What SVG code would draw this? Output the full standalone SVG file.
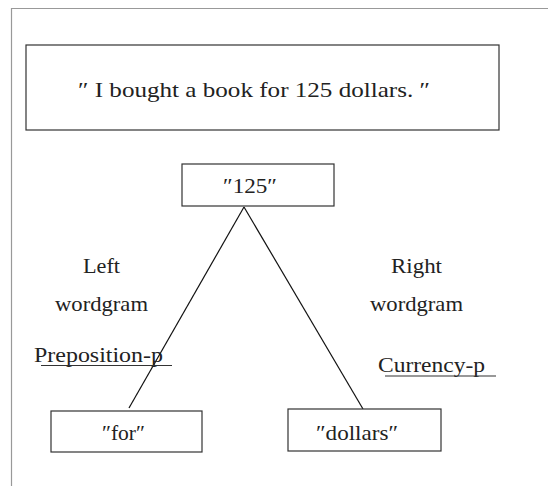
<svg xmlns="http://www.w3.org/2000/svg" width="548" height="486" viewBox="0 0 548 486">
<style>
.box{fill:#fff;stroke:#333;stroke-width:1.2}
.t{font-family:'Liberation Serif','DejaVu Serif',serif;font-size:21px;fill:#222}
.ln{stroke:#111;stroke-width:1.2;fill:none}
.ul{stroke:#333;stroke-width:1.2}
</style>
<rect x="0" y="0" width="548" height="486" fill="#fff"/>
<path d="M11.5,486 V8.5 H548" fill="none" stroke="#999" stroke-width="1.2"/>
<g id="connectors">
<line class="ln" x1="244" y1="207" x2="129" y2="408"/>
<line class="ln" x1="244" y1="207" x2="363" y2="409"/>
</g>
<g id="sentence">
<rect class="box" x="26" y="45" width="473" height="85"/>
<text class="t" x="78" y="97" font-size="22" textLength="352" lengthAdjust="spacingAndGlyphs">″ I bought a book for 125 dollars. ″</text>
</g>
<g id="n125">
<rect class="box" x="182" y="164" width="152" height="42"/>
<text class="t" x="223" y="193" textLength="54" lengthAdjust="spacingAndGlyphs">″125″</text>
</g>
<g id="left-label">
<text class="t" x="83" y="273" textLength="37" lengthAdjust="spacingAndGlyphs">Left</text>
<text class="t" x="55" y="311" textLength="93" lengthAdjust="spacingAndGlyphs">wordgram</text>
</g>
<g id="right-label">
<text class="t" x="391" y="273" textLength="51" lengthAdjust="spacingAndGlyphs">Right</text>
<text class="t" x="370" y="311" textLength="93" lengthAdjust="spacingAndGlyphs">wordgram</text>
</g>
<g id="prep">
<text class="t" x="34" y="362" textLength="129" lengthAdjust="spacingAndGlyphs">Preposition-p</text>
<line class="ul" x1="41" y1="365.5" x2="172" y2="365.5"/>
</g>
<g id="curr">
<text class="t" x="378" y="372" textLength="107" lengthAdjust="spacingAndGlyphs">Currency-p</text>
<line class="ul" x1="385" y1="376" x2="496" y2="376"/>
</g>
<g id="nfor">
<rect class="box" x="51" y="411" width="151" height="41"/>
<text class="t" x="102" y="440" textLength="43" lengthAdjust="spacingAndGlyphs">″for″</text>
</g>
<g id="ndollars">
<rect class="box" x="288" y="409" width="153" height="42"/>
<text class="t" x="316" y="440" textLength="82" lengthAdjust="spacingAndGlyphs">″dollars″</text>
</g>
</svg>
